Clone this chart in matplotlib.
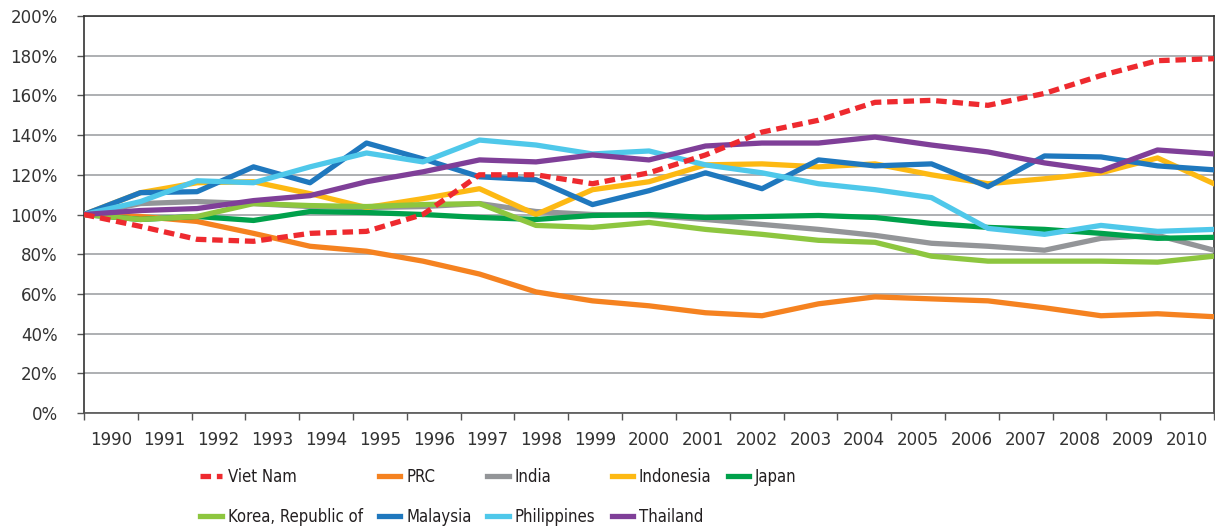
import numpy as np
import matplotlib
matplotlib.use("Agg")
import matplotlib.pyplot as plt
from matplotlib import font_manager
from matplotlib.ticker import FuncFormatter

# Index values relative to 1990 (percent)
years = list(range(1990, 2011))

viet_nam = [100, 94, 87.5, 86.5, 90.5, 91.5, 100, 120, 120, 115.5, 121, 130, 141.5, 147.5, 156.5, 157.5, 155, 161, 170, 177.5, 178.5]
prc = [100, 99, 96.5, 90.5, 84, 81.5, 76.5, 70, 61, 56.5, 54, 50.5, 49, 55, 58.5, 57.5, 56.5, 53, 49, 50, 48.5]
india = [100, 105.5, 106.5, 105.5, 104, 103.5, 104, 105.5, 101.5, 100, 99.5, 97.5, 95, 92.5, 89.5, 85.5, 84, 82, 88, 89.5, 82]
indonesia = [100, 111, 116, 116.5, 110.5, 103.5, 108, 113, 100, 112.5, 116.5, 125, 125.5, 124, 125.5, 120, 115.5, 118, 121, 128.5, 115.5]
japan = [100, 97.5, 99, 97, 101.5, 101, 100, 98.5, 97.5, 99.5, 100, 98.5, 99, 99.5, 98.5, 95.5, 93.5, 92.5, 90.5, 88, 88.5]
korea = [100, 97.5, 99, 105.5, 104.5, 104, 105, 105.5, 94.5, 93.5, 96, 92.5, 90, 87, 86, 79, 76.5, 76.5, 76.5, 76, 79]
malaysia = [100, 111, 111.5, 124, 116, 136, 128, 119, 117.5, 105, 112, 121, 113, 127.5, 124.5, 125.5, 114, 129.5, 129, 124.5, 122.5]
philippines = [100, 106.5, 117, 116, 124, 131, 126.5, 137.5, 135, 130.5, 132, 125, 121, 115.5, 112.5, 108.5, 93, 90, 94.5, 91.5, 92.5]
thailand = [100, 102, 103, 107, 109.5, 116.5, 121.5, 127.5, 126.5, 130, 127.5, 134.5, 136, 136, 139, 135, 131.5, 126, 122, 132.5, 130.5]

# look for a condensed face for the legend, fall back to a plain one
legend_font = None
for f in font_manager.fontManager.ttflist:
    if ("Narrow" in f.name or "Condensed" in f.name or f.stretch in ("condensed", "semi-condensed")) \
            and f.weight in (400, "normal", "regular") and f.style == "normal":
        legend_font = font_manager.FontProperties(fname=f.fname, size=12)
        break
if legend_font is None:
    legend_font = font_manager.FontProperties(family=["Roboto", "DejaVu Sans"], size=10)

W, H = 1215, 527
fig = plt.figure(figsize=(W / 100, H / 100), dpi=100)
ax = fig.add_axes([84 / W, 1 - 413 / H, 1130 / W, 397 / H])

x = np.arange(len(years))
lw = 3.8
ax.plot(x, prc, color="#f58220", lw=lw, label="PRC", zorder=3)
ax.plot(x, india, color="#939598", lw=lw, label="India", zorder=3)
ax.plot(x, indonesia, color="#fdb913", lw=lw, label="Indonesia", zorder=3)
ax.plot(x, japan, color="#00a14b", lw=lw, label="Japan", zorder=3)
ax.plot(x, korea, color="#8dc63f", lw=lw, label="Korea, Republic of", zorder=3)
ax.plot(x, malaysia, color="#1f78be", lw=lw, label="Malaysia", zorder=3)
ax.plot(x, philippines, color="#4fc8ea", lw=lw, label="Philippines", zorder=3)
ax.plot(x, thailand, color="#7f3f98", lw=lw, label="Thailand", zorder=3)
ax.plot(x, viet_nam, color="#ee2a2f", lw=lw, ls=(0, (2.0, 1.1)), dash_capstyle="butt",
        label="Viet Nam", zorder=4)

ax.set_xlim(0, len(years) - 1)
ax.set_ylim(0, 200)

# y axis
ax.set_yticks(np.arange(0, 201, 20))
ax.yaxis.set_major_formatter(FuncFormatter(lambda v, p: f"{v:.0f}%"))
ax.grid(axis="y", color="#a7a9ac", lw=1.3, zorder=1)
ax.tick_params(axis="y", length=5, width=1, color="#555555", pad=14, labelsize=12, labelcolor="#333333")

# x axis: category ticks between years, labels centered
n = len(years)
edges = np.linspace(0, n - 1, n + 1)
centers = (edges[:-1] + edges[1:]) / 2
ax.set_xticks(edges)
ax.set_xticklabels([""] * len(edges))
ax.set_xticks(centers, minor=True)
ax.set_xticklabels([str(y) for y in years], minor=True)
ax.tick_params(axis="x", which="major", length=5, width=1, color="#555555")
ax.tick_params(axis="x", which="minor", length=0, pad=13, labelsize=12, labelcolor="#333333")

for side in ["left", "right", "top"]:
    ax.spines[side].set_color("#333333")
    ax.spines[side].set_linewidth(1.2)
ax.spines["bottom"].set_color("#555555")
ax.spines["bottom"].set_linewidth(1.2)

# legend: one small legend per column, placed near the original columns
handles, labels = ax.get_legend_handles_labels()
hmap = dict(zip(labels, handles))
columns = [["Viet Nam", "Korea, Republic of"], ["PRC", "Malaysia"], ["India", "Philippines"],
           ["Indonesia", "Thailand"], ["Japan"]]
col_x = [200, 338, 428, 518, 610]
leg_top = 1 - 468 / H
legs = []
for names in columns:
    leg = fig.legend([hmap[nm] for nm in names], names, loc="upper left",
                     bbox_to_anchor=(0, leg_top), frameon=False,
                     handlelength=1.3, handletextpad=0.35, labelspacing=1.3,
                     borderpad=0, borderaxespad=0, prop=legend_font, labelcolor="#231f20")
    legs.append(leg)

fig.canvas.draw()
renderer = fig.canvas.get_renderer()
gap = 16
cx = col_x[0]
for lg, rx in zip(legs, col_x):
    cx = max(cx, rx)
    lg.set_bbox_to_anchor((cx / W, leg_top), transform=fig.transFigure)
    cx += lg.get_window_extent(renderer).width + gap

fig.savefig("out.png", dpi=100)
